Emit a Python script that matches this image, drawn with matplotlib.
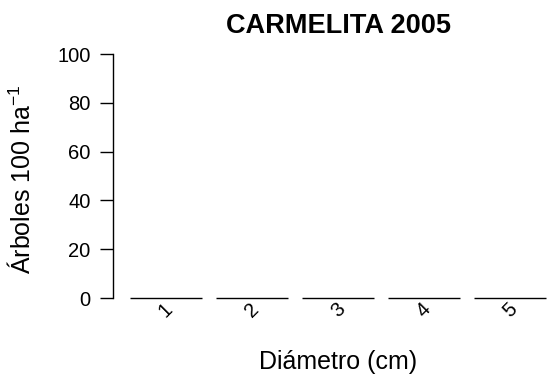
import numpy as np
import matplotlib
matplotlib.use("Agg")
import matplotlib.pyplot as plt

plt.rcParams['font.family'] = ['Liberation Sans', 'DejaVu Sans']
plt.rcParams['mathtext.fontset'] = 'custom'
plt.rcParams['mathtext.rm'] = 'Liberation Sans'
plt.rcParams['mathtext.it'] = 'Liberation Sans'

clases = ['1', '2', '3', '4', '5']
arboles = [0, 0, 0, 0, 0]

# barplot layout: width 1, space 0.2
ancho = 1.0
espacio = 0.2
centros = espacio + ancho / 2 + np.arange(len(clases)) * (ancho + espacio)

W, H = 547, 375
fig = plt.figure(figsize=(W / 100, H / 100), dpi=100)
ax = fig.add_axes([0.2073, 0.179, 0.8212, 0.703])

ax.bar(centros, arboles, width=ancho, facecolor='white', edgecolor='black', linewidth=1.0)

xmin, xmax = espacio, centros[-1] + ancho / 2
ext = 0.04 * (xmax - xmin)
ax.set_xlim(xmin - ext, xmax + ext)
ax.set_ylim(-4, 104)

for s in ['top', 'right', 'bottom']:
    ax.spines[s].set_visible(False)
ax.spines['left'].set_bounds(0, 100)
ax.spines['left'].set_linewidth(1.0)

ax.set_yticks([0, 20, 40, 60, 80, 100])
ax.tick_params(axis='y', length=9.5, width=1.0, labelsize=14.5, pad=7)
ax.set_xticks(centros)
ax.set_xticklabels(clases, rotation=45, ha='center', va='center', fontsize=14.5)
ax.tick_params(axis='x', length=0, pad=1.5)

fig.text(22 / W, 1 - 179 / H, 'Árboles 100 ha$^{-1}$', rotation=90,
         ha='center', va='center', fontsize=18)
fig.text(338 / W, 1 - 369 / H, 'Diámetro (cm)', ha='center', va='baseline', fontsize=18)
fig.text(338 / W, 1 - 33 / H, 'CARMELITA 2005', ha='center', va='baseline',
         fontsize=19.5, fontweight='bold')

fig.savefig('out.png', dpi=100)
